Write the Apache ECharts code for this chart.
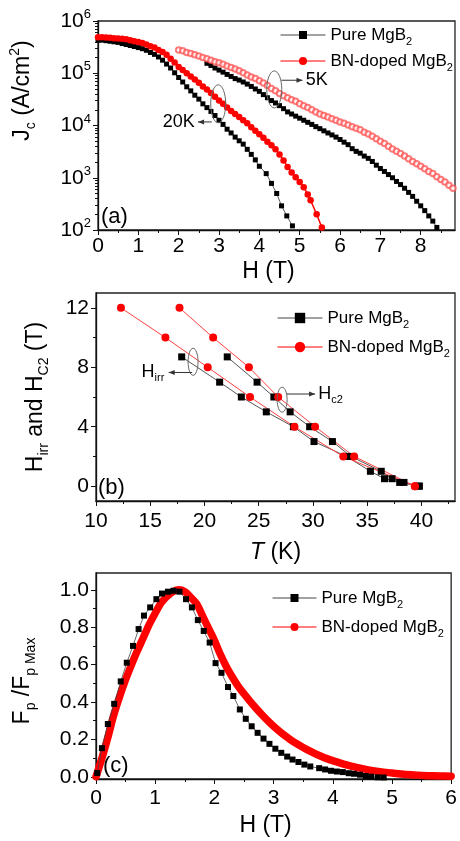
<!DOCTYPE html>
<html>
<head>
<meta charset="utf-8">
<script src="https://cdn.jsdelivr.net/npm/echarts@6/dist/echarts.min.js"></script>
<style>
html,body{margin:0;padding:0;background:#fff;}
#chart{width:460px;height:841px;}
</style>
</head>
<body>
<div id="chart"></div>
<script>
// ---- (a) Jc(H): [H (T), Jc (A/cm^2)] ----
const jcPure20K = [
  [0.0,4.3e5],[0.1,4.3e5],[0.2,4.2e5],[0.3,4.1e5],[0.4,4.0e5],[0.5,3.9e5],[0.6,3.7e5],[0.7,3.55e5],[0.8,3.4e5],[0.9,3.25e5],
  [1.0,3.1e5],[1.1,2.95e5],[1.2,2.75e5],[1.3,2.5e5],[1.4,2.3e5],[1.5,2.05e5],[1.6,1.78e5],[1.7,1.5e5],[1.8,1.26e5],[1.9,1.02e5],
  [2.0,8.3e4],[2.1,6.8e4],[2.2,5.5e4],[2.3,4.6e4],[2.4,3.8e4],[2.5,3.2e4],[2.6,2.6e4],[2.7,2.2e4],[2.8,1.86e4],[2.9,1.55e4],
  [3.0,1.26e4],[3.1,1.05e4],[3.2,8.5e3],[3.3,7.2e3],[3.4,6.0e3],[3.5,5.1e3],[3.6,4.4e3],[3.7,3.5e3],[3.8,2.8e3],[3.9,2.2e3],
  [4.0,1.66e3],[4.17,1.2e3],[4.3,780],[4.43,500],[4.55,290],[4.68,186],[4.82,120]
];
const jcBN20K = [
  [0.0,4.9e5],[0.1,4.9e5],[0.2,4.85e5],[0.3,4.8e5],[0.4,4.7e5],[0.5,4.65e5],[0.6,4.55e5],[0.7,4.45e5],[0.8,4.3e5],[0.9,4.1e5],
  [1.0,3.95e5],[1.1,3.8e5],[1.2,3.55e5],[1.3,3.3e5],[1.4,3.1e5],[1.5,2.8e5],[1.6,2.55e5],[1.7,2.25e5],[1.8,1.9e5],[1.9,1.6e5],
  [2.0,1.32e5],[2.1,1.15e5],[2.2,1.0e5],[2.3,8.7e4],[2.4,7.6e4],[2.5,6.6e4],[2.6,5.6e4],[2.7,4.9e4],[2.8,4.2e4],[2.9,3.55e4],
  [3.0,3.0e4],[3.1,2.6e4],[3.2,2.2e4],[3.3,1.9e4],[3.4,1.66e4],[3.5,1.45e4],[3.6,1.26e4],[3.7,1.1e4],[3.8,9.3e3],[3.9,7.9e3],
  [4.0,6.8e3],[4.1,5.8e3],[4.2,4.9e3],[4.3,4.2e3],[4.4,3.5e3],[4.5,2.8e3],[4.6,2.15e3],[4.7,1.6e3],[4.8,1.26e3],[4.9,1.02e3],
  [5.0,830],[5.1,660],[5.2,480],[5.27,370],[5.42,200],[5.55,112]
];
const jcPure5K = [
  [2.7,1.55e5],[2.8,1.41e5],[2.9,1.26e5],[3.0,1.15e5],[3.1,1.05e5],[3.2,9.5e4],[3.3,8.7e4],[3.4,7.9e4],[3.5,7.4e4],[3.6,6.8e4],
  [3.7,6.2e4],[3.8,5.6e4],[3.9,5.0e4],[4.0,4.5e4],[4.1,3.9e4],[4.2,3.4e4],[4.3,3.0e4],[4.4,2.7e4],[4.5,2.4e4],[4.6,2.1e4],
  [4.7,1.82e4],[4.8,1.66e4],[4.9,1.51e4],[5.0,1.38e4],[5.1,1.26e4],[5.2,1.15e4],[5.3,1.05e4],[5.4,9.5e3],[5.5,8.7e3],[5.6,7.9e3],
  [5.7,7.2e3],[5.8,6.6e3],[5.9,6.0e3],[6.0,5.4e3],[6.1,4.8e3],[6.2,4.3e3],[6.3,3.6e3],[6.4,3.2e3],[6.5,2.95e3],[6.6,2.6e3],
  [6.7,2.35e3],[6.8,2.05e3],[6.9,1.74e3],[7.0,1.5e3],[7.1,1.32e3],[7.2,1.15e3],[7.3,1.0e3],[7.4,850],[7.5,740],[7.6,630],
  [7.7,525],[7.8,440],[7.9,355],[8.0,290],[8.1,235],[8.2,186],[8.3,148],[8.4,112]
];
const jcBN5K = [
  [2.0,2.8e5],[2.1,2.7e5],[2.2,2.5e5],[2.3,2.4e5],[2.4,2.25e5],[2.5,2.15e5],[2.6,2.0e5],[2.7,1.9e5],[2.8,1.78e5],[2.9,1.66e5],
  [3.0,1.58e5],[3.1,1.48e5],[3.2,1.38e5],[3.3,1.29e5],[3.4,1.2e5],[3.5,1.12e5],[3.6,1.02e5],[3.7,9.3e4],[3.8,8.5e4],[3.9,7.9e4],
  [4.0,7.2e4],[4.1,6.5e4],[4.2,5.8e4],[4.3,5.1e4],[4.4,4.6e4],[4.5,4.1e4],[4.6,3.7e4],[4.7,3.4e4],[4.8,3.1e4],[4.9,2.9e4],
  [5.0,2.6e4],[5.1,2.4e4],[5.2,2.2e4],[5.3,2.0e4],[5.4,1.82e4],[5.5,1.66e4],[5.6,1.55e4],[5.7,1.45e4],[5.8,1.35e4],[5.9,1.26e4],
  [6.0,1.17e4],[6.1,1.1e4],[6.2,1.02e4],[6.3,9.5e3],[6.4,8.9e3],[6.5,8.3e3],[6.6,7.4e3],[6.7,6.9e3],[6.8,6.2e3],[6.9,5.6e3],
  [7.0,5.0e3],[7.1,4.5e3],[7.2,4.0e3],[7.3,3.55e3],[7.4,3.2e3],[7.5,2.9e3],[7.6,2.6e3],[7.7,2.3e3],[7.8,2.05e3],[7.9,1.86e3],
  [8.0,1.66e3],[8.1,1.48e3],[8.2,1.32e3],[8.3,1.2e3],[8.4,1.05e3],[8.5,930],[8.6,830],[8.7,720],[8.8,630]
];

// ---- (b) Hirr and Hc2 vs T: [T (K), H (T)] ----
const hirrPure = [[17.9,8.7],[21.4,7],[23.4,6],[25.7,5],[28.2,4],[30.1,3],[33.1,2],[35.3,1],[36.6,0.5],[38.0,0.25],[39.8,0]];
const hc2Pure  = [[22.1,8.7],[24.85,7],[26.4,6],[27.9,5],[29.7,4],[31.8,3],[33.5,2],[36.3,1],[37.3,0.5],[38.4,0.25],[39.8,0]];
const hirrBN   = [[12.3,12],[16.4,10],[20.3,8],[24.2,6],[28.3,4],[32.8,2],[39.4,0]];
const hc2BN    = [[17.7,12],[20.8,10],[24.1,8],[26.8,6],[30.2,4],[33.8,2],[39.4,0]];

// ---- (c) normalised pinning force: [H (T), Fp/Fp,max] ----
const fpPure = [
  [0.02,0.02],[0.1,0.153],[0.2,0.282],[0.307,0.39],[0.418,0.51],[0.52,0.61],[0.625,0.70],[0.72,0.79],[0.81,0.862],[0.915,0.906],
  [1.02,0.95],[1.115,0.98],[1.216,0.99],[1.31,0.995],[1.41,0.99],[1.52,0.95],[1.62,0.906],[1.72,0.838],[1.82,0.78],[1.92,0.718],
  [2.02,0.608],[2.12,0.556],[2.23,0.48],[2.32,0.432],[2.43,0.36],[2.53,0.31],[2.63,0.27],[2.73,0.235],[2.83,0.204],[2.93,0.176],
  [3.03,0.15],[3.13,0.128],[3.23,0.108],[3.32,0.092],[3.42,0.079],[3.52,0.065],[3.62,0.055],[3.77,0.046],[3.87,0.039],[3.97,0.032],
  [4.07,0.028],[4.17,0.025],[4.27,0.019],[4.36,0.016],[4.46,0.011],[4.56,0.004],[4.65,0.0],[4.76,-0.003],[4.86,-0.004]
];
const fpBN = [
  [0.0,0.0],[0.1,0.1],[0.2,0.21],[0.3,0.33],[0.4,0.43],[0.5,0.52],[0.6,0.60],[0.7,0.675],[0.8,0.745],[0.9,0.815],
  [1.0,0.875],[1.1,0.93],[1.2,0.965],[1.3,0.99],[1.4,1.0],[1.5,0.99],[1.6,0.96],[1.7,0.925],[1.8,0.86],[1.9,0.795],
  [2.0,0.73],[2.1,0.655],[2.2,0.59],[2.3,0.535],[2.4,0.485],[2.5,0.444],[2.6,0.405],[2.7,0.368],[2.8,0.333],[2.9,0.3],
  [3.0,0.27],[3.1,0.243],[3.2,0.218],[3.3,0.195],[3.4,0.175],[3.5,0.157],[3.6,0.14],[3.7,0.124],[3.8,0.11],[3.9,0.097],
  [4.0,0.086],[4.2,0.066],[4.4,0.05],[4.6,0.037],[4.8,0.027],[5.0,0.02],[5.2,0.013],[5.4,0.009],[5.6,0.006],[5.8,0.004],[6.0,0.003]
];

// ---- tick values ----
const fieldTicksA = [0,1,2,3,4,5,6,7,8];
const fieldMinorA = [0.5,1.5,2.5,3.5,4.5,5.5,6.5,7.5,8.5];
const tempTicksB = [10,15,20,25,30,35,40];
const tempMinorB = [12.5,17.5,22.5,27.5,32.5,37.5,42.5];
const hTicksB = [0,4,8,12];
const hMinorB = [2,6,10];
const fieldTicksC = [0,1,2,3,4,5,6];
const fieldMinorC = [0.5,1.5,2.5,3.5,4.5,5.5];
const fpTicksC = [0,0.2,0.4,0.6,0.8,1.0];
const fpMinorC = [0.1,0.3,0.5,0.7,0.9];
const decades = [2,3,4,5];

const PURE = 'Pure MgB2';
const BN = 'BN-doped MgB2';
const FONT = 'Liberation Sans';
const RED = '#ff0000';

const chart = echarts.init(document.getElementById('chart'), null, {renderer: 'canvas'});

const subRich = {
  sub: {fontFamily: FONT, fontSize: 14, lineHeight: 14, verticalAlign: 'bottom', color: '#000'},
  sup: {fontFamily: FONT, fontSize: 14, lineHeight: 14, verticalAlign: 'top', color: '#000'},
  i: {fontFamily: FONT, fontSize: 23, fontStyle: 'italic', color: '#000'}
};

const grids = [
  {left: 96, top: 21, width: 359, height: 209},
  {left: 96, top: 293, width: 359, height: 208},
  {left: 96, top: 573, width: 359, height: 208}
].map(g => Object.assign({show: true, borderColor: '#222', borderWidth: 1.3, backgroundColor: 'transparent'}, g));

function mainX(gridIndex, min, max, ticks, name, gap, margin, pad) {
  return {
    gridIndex, type: 'value', min, max,
    axisLine: {show: true, onZero: false, lineStyle: {color: '#111', width: 1.3}},
    axisTick: {show: true, length: 5, customValues: ticks, lineStyle: {color: '#111'}},
    axisLabel: {customValues: ticks, fontFamily: FONT, fontSize: 21, color: '#000', margin},
    splitLine: {show: false},
    name, nameLocation: 'middle', nameGap: gap,
    nameTextStyle: {fontFamily: FONT, fontSize: 23, color: '#000', lineHeight: 28, padding: pad, rich: subRich}
  };
}
function minorX(gridIndex, min, max, ticks) {
  return {
    gridIndex, type: 'value', min, max, position: 'bottom',
    axisLine: {show: false, onZero: false},
    axisTick: {show: true, length: 3, customValues: ticks, lineStyle: {color: '#111'}},
    axisLabel: {show: false}, splitLine: {show: false}
  };
}
function mainY(gridIndex, min, max, ticks, name, gap, pad, fmt) {
  return {
    gridIndex, type: 'value', min, max,
    axisLine: {show: true, onZero: false, lineStyle: {color: '#111', width: 1.3}},
    axisTick: {show: true, length: 5, customValues: ticks, lineStyle: {color: '#111'}},
    axisLabel: {customValues: ticks, fontFamily: FONT, fontSize: 21, color: '#000', margin: 7, formatter: fmt},
    splitLine: {show: false},
    name, nameLocation: 'middle', nameRotate: 90, nameGap: gap,
    nameTextStyle: {fontFamily: FONT, fontSize: 23, color: '#000', lineHeight: 30, padding: pad, rich: subRich}
  };
}
function minorY(gridIndex, min, max, ticks) {
  return {
    gridIndex, type: 'value', min, max, position: 'left',
    axisLine: {show: false, onZero: false},
    axisTick: {show: true, length: 3, customValues: ticks, lineStyle: {color: '#111'}},
    axisLabel: {show: false}, splitLine: {show: false}
  };
}

// minor ticks of the logarithmic Jc axis, placed in log10 space
const logMinor = [];
decades.forEach(d => { for (let k = 2; k <= 9; k++) logMinor.push(d + Math.log10(k)); });

const xAxis = [
  mainX(0, 0, 8.85, fieldTicksA, 'H (T)', 28, 6, [0, 16, 0, 0]),
  minorX(0, 0, 8.85, fieldMinorA),
  mainX(1, 10, 43.1, tempTicksB, '{i|T} (K)', 38, 10, 0),
  minorX(1, 10, 43.1, tempMinorB),
  mainX(2, 0, 6, fieldTicksC, 'H (T)', 33, 9, [0, 16, 0, 0]),
  minorX(2, 0, 6, fieldMinorC)
];
const yAxis = [
  {
    gridIndex: 0, type: 'log', logBase: 10, min: 100, max: 1e6,
    axisLine: {show: true, onZero: false, lineStyle: {color: '#111', width: 1.3}},
    axisTick: {show: true, length: 5, lineStyle: {color: '#111'}},
    axisLabel: {
      fontFamily: FONT, fontSize: 21, color: '#000', margin: 7, lineHeight: 26,
      formatter: v => '10{sup|' + Math.round(Math.log10(v)) + '}',
      rich: {sup: {fontFamily: FONT, fontSize: 13, lineHeight: 13, verticalAlign: 'top', color: '#000'}}
    },
    splitLine: {show: false}, minorTick: {show: false},
    name: 'J{sub|c} (A/cm{sup|2})', nameLocation: 'middle', nameRotate: 90, nameGap: 60,
    nameTextStyle: {fontFamily: FONT, fontSize: 23, color: '#000', lineHeight: 30, padding: [0, 0, 0, 70], rich: subRich}
  },
  minorY(0, 2, 6, logMinor),
  mainY(1, -1, 13, hTicksB, 'H{sub|irr} and H{sub|C2} (T)', 45, 0),
  minorY(1, -1, 13, hMinorB),
  mainY(2, -0.012, 1.09, fpTicksC, 'F{sub|p} /F{sub|p Max}', 58, [0, 10, 0, 0], v => v.toFixed(1)),
  minorY(2, -0.012, 1.09, fpMinorC)
];

const series = [
  // (a)
  {name: PURE, type: 'line', xAxisIndex: 0, yAxisIndex: 0, data: jcPure20K, symbol: 'rect', symbolSize: 5,
   itemStyle: {color: '#000'}, lineStyle: {color: '#333', width: 0.8}},
  {name: BN, type: 'line', xAxisIndex: 0, yAxisIndex: 0, data: jcBN20K, symbol: 'circle', symbolSize: 6.5,
   itemStyle: {color: RED}, lineStyle: {color: RED, width: 1.5}},
  {name: PURE, type: 'line', xAxisIndex: 0, yAxisIndex: 0, data: jcPure5K, symbol: 'rect', symbolSize: 5,
   itemStyle: {color: '#000'}, lineStyle: {color: '#333', width: 0.8}},
  {name: BN, type: 'line', xAxisIndex: 0, yAxisIndex: 0, data: jcBN5K, symbol: 'emptyCircle', symbolSize: 5.5,
   itemStyle: {color: '#ff5050', borderWidth: 0.6, opacity: 0.75}, lineStyle: {color: '#ffa0a0', width: 0.5}},
  // (b)
  {name: PURE, type: 'line', xAxisIndex: 2, yAxisIndex: 2, data: hirrPure, symbol: 'rect', symbolSize: 7,
   itemStyle: {color: '#000'}, lineStyle: {color: '#555', width: 1}},
  {name: PURE, type: 'line', xAxisIndex: 2, yAxisIndex: 2, data: hc2Pure, symbol: 'rect', symbolSize: 7,
   itemStyle: {color: '#000'}, lineStyle: {color: '#555', width: 1}},
  {name: BN, type: 'line', xAxisIndex: 2, yAxisIndex: 2, data: hirrBN, symbol: 'circle', symbolSize: 8,
   itemStyle: {color: RED}, lineStyle: {color: '#ff4040', width: 1}},
  {name: BN, type: 'line', xAxisIndex: 2, yAxisIndex: 2, data: hc2BN, symbol: 'circle', symbolSize: 8,
   itemStyle: {color: RED}, lineStyle: {color: '#ff4040', width: 1}},
  // (c)
  {name: BN, type: 'line', xAxisIndex: 4, yAxisIndex: 4, data: fpBN, smooth: 0.3, showSymbol: false, symbol: 'none',
   lineStyle: {color: RED, width: 7.5, cap: 'round'}, itemStyle: {color: RED}, z: 2},
  {name: PURE, type: 'line', xAxisIndex: 4, yAxisIndex: 4, data: fpPure, symbol: 'rect', symbolSize: 6,
   itemStyle: {color: '#000'}, lineStyle: {color: '#444', width: 0.8}, z: 3}
];

function legendAt(left, top, itemHeight, gap, itemWidth) {
  return {
    orient: 'vertical', left, top, itemWidth, itemHeight, itemGap: gap, selectedMode: false,
    formatter: n => n.replace(/2$/, '{sub|2}'),
    textStyle: {fontFamily: FONT, fontSize: 17, color: '#000', lineHeight: 24,
      rich: {sub: {fontFamily: FONT, fontSize: 11, lineHeight: 11, verticalAlign: 'bottom', color: '#000'}}},
    data: [
      {name: PURE, itemStyle: {color: '#000'}, lineStyle: {color: '#444', width: 1}},
      {name: BN, itemStyle: {color: RED}, lineStyle: {color: RED, width: 1}}
    ]
  };
}

chart.setOption({
  animation: false,
  backgroundColor: '#fff',
  grid: grids,
  xAxis, yAxis, series,
  legend: [
    legendAt(275, 18, 10, 2, 45),
    legendAt(272, 301, 13, 5, 45),
    legendAt(267, 581, 10, 5, 44)
  ]
});

// annotations: loops, arrows and temperature / field labels
function annotate() {
  const g = [];
  const P = (xi, yi, pt) => chart.convertToPixel({xAxisIndex: xi, yAxisIndex: yi}, pt);
  const ellipse = (c, rx, ry) => g.push({type: 'ellipse', shape: {cx: c[0], cy: c[1], rx, ry},
    style: {fill: 'none', stroke: '#666', lineWidth: 1}, z: 10});
  const arrow = (a, b) => {
    g.push({type: 'line', shape: {x1: a[0], y1: a[1], x2: b[0], y2: b[1]}, style: {stroke: '#333', lineWidth: 1}, z: 10});
    const dir = Math.sign(b[0] - a[0]);
    g.push({type: 'polygon', shape: {points: [[b[0], b[1]], [b[0] - dir * 6, b[1] - 2.5], [b[0] - dir * 6, b[1] + 2.5]]},
      style: {fill: '#333'}, z: 10});
  };
  const label = (p, text, align, size) => g.push({type: 'text', z: 10, style: {
    x: p[0], y: p[1], text, align, verticalAlign: 'middle', fontFamily: FONT, fontSize: size, fill: '#000',
    rich: {sub: {fontFamily: FONT, fontSize: 11, verticalAlign: 'bottom', lineHeight: 11, fill: '#000'}}, lineHeight: 22}});

  // (a) 20 K and 5 K groups
  ellipse(P(0, 0, [2.98, 2.6e4]), 7.5, 19);
  arrow(P(0, 0, [2.82, 1.17e4]), P(0, 0, [2.48, 1.17e4]));
  label(P(0, 0, [2.4, 1.17e4]), '20K', 'right', 18);
  ellipse(P(0, 0, [4.37, 4.9e4]), 7.5, 18.5);
  arrow(P(0, 0, [4.55, 7.35e4]), P(0, 0, [5.07, 7.35e4]));
  label(P(0, 0, [5.15, 7.35e4]), '5K', 'left', 18);

  // (b) Hirr and Hc2 groups
  ellipse(P(2, 2, [18.95, 8.37]), 5, 13.5);
  arrow(P(2, 2, [18.86, 7.65]), P(2, 2, [16.7, 7.65]));
  label(P(2, 2, [16.3, 7.65]), 'H{sub|irr}', 'right', 18);
  ellipse(P(2, 2, [27.16, 5.82]), 5, 12.5);
  arrow(P(2, 2, [27.6, 6.2]), P(2, 2, [30.2, 6.2]));
  label(P(2, 2, [30.5, 6.2]), 'H{sub|c2}', 'left', 18);

  // panel letters
  [['(a)', 101, 217], ['(b)', 98, 488], ['(c)', 103, 766]].forEach(([t, x, y]) =>
    g.push({type: 'text', z: 10, style: {x, y, text: t, fontFamily: FONT, fontSize: 22, fill: '#000', verticalAlign: 'middle'}}));

  chart.setOption({graphic: g});
}
annotate();
</script>
</body>
</html>
